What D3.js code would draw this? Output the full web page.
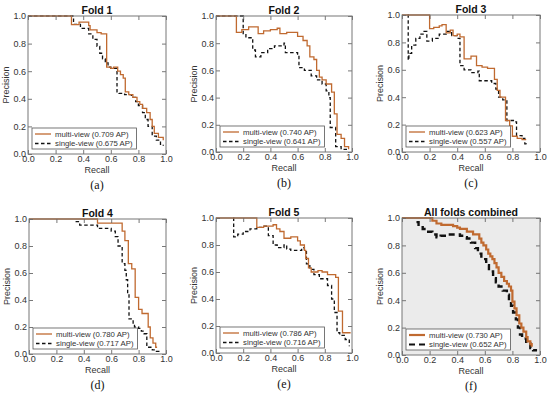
<!DOCTYPE html>
<html><head><meta charset="utf-8">
<script src="https://cdn.jsdelivr.net/npm/d3@7"></script>
<style>
html,body{margin:0;padding:0;background:#fff;}
svg{display:block;}
</style></head>
<body>
<svg id="c" width="550" height="395"></svg>
<script>
// ---- data ----
const titles = ['Fold 1','Fold 2','Fold 3','Fold 4','Fold 5','All folds combined'];
const panelLabels = ['(a)','(b)','(c)','(d)','(e)','(f)'];
const apMulti = ['0.709','0.740','0.623','0.780','0.786','0.730'];
const apSingle = ['0.675','0.641','0.557','0.717','0.716','0.652'];
const tickValues = [0,0.2,0.4,0.6,0.8,1.0];

// [recall, precision] — precision holds from this recall to the next point
const fold1Multi = [[0,1],[0.315,0.937],[0.37,0.955],[0.44,0.93],[0.45,0.9],[0.5,0.88],[0.53,0.87],[0.57,0.63],[0.6,0.62],[0.62,0.63],[0.65,0.6],[0.67,0.575],[0.69,0.55],[0.705,0.45],[0.73,0.43],[0.76,0.41],[0.79,0.38],[0.81,0.36],[0.83,0.33],[0.86,0.3],[0.885,0.25],[0.9,0.2],[0.915,0.15],[0.945,0.12],[0.98,0.1]];
const fold1Single = [[0,1],[0.33,0.94],[0.38,0.91],[0.44,0.87],[0.47,0.83],[0.5,0.78],[0.52,0.73],[0.54,0.69],[0.56,0.66],[0.58,0.63],[0.6,0.62],[0.645,0.45],[0.66,0.44],[0.7,0.43],[0.75,0.41],[0.78,0.38],[0.8,0.35],[0.83,0.3],[0.85,0.25],[0.87,0.2],[0.9,0.13],[0.93,0.1],[0.96,0.07],[0.98,0.06]];

const fold2Multi = [[0,1],[0.15,0.88],[0.19,0.9],[0.24,0.92],[0.31,0.87],[0.35,0.89],[0.4,0.9],[0.45,0.91],[0.47,0.87],[0.52,0.88],[0.6,0.85],[0.64,0.82],[0.67,0.78],[0.69,0.7],[0.72,0.68],[0.74,0.6],[0.76,0.55],[0.78,0.53],[0.81,0.5],[0.85,0.44],[0.87,0.28],[0.89,0.13],[0.92,0.1],[0.945,0.04],[0.975,0.02]];
const fold2Single = [[0,1],[0.2,0.87],[0.22,0.84],[0.27,0.75],[0.29,0.7],[0.33,0.73],[0.38,0.76],[0.43,0.78],[0.5,0.8],[0.51,0.73],[0.6,0.72],[0.61,0.62],[0.65,0.6],[0.7,0.56],[0.74,0.53],[0.78,0.5],[0.81,0.45],[0.83,0.4],[0.84,0.18],[0.88,0.04],[0.92,0.02],[0.97,0.02]];

const fold3Multi = [[0,1],[0.2,0.9],[0.23,0.91],[0.27,0.92],[0.29,0.93],[0.32,0.87],[0.35,0.89],[0.37,0.85],[0.4,0.86],[0.42,0.84],[0.45,0.68],[0.5,0.7],[0.54,0.63],[0.58,0.62],[0.62,0.61],[0.67,0.53],[0.69,0.45],[0.71,0.4],[0.75,0.23],[0.78,0.19],[0.8,0.115],[0.835,0.1],[0.87,0.09],[0.9,0.09]];
const fold3Single = [[0.04,1.0],[0.045,0.67],[0.05,0.72],[0.07,0.78],[0.1,0.83],[0.13,0.86],[0.16,0.88],[0.18,0.81],[0.22,0.83],[0.27,0.86],[0.32,0.88],[0.36,0.85],[0.4,0.83],[0.42,0.63],[0.45,0.6],[0.5,0.58],[0.55,0.59],[0.56,0.52],[0.62,0.52],[0.65,0.5],[0.68,0.46],[0.7,0.4],[0.73,0.38],[0.76,0.23],[0.82,0.22],[0.83,0.12],[0.87,0.1],[0.89,0.06],[0.9,0.04]];

const fold4Multi = [[0,1],[0.5,0.97],[0.68,0.91],[0.7,0.84],[0.725,0.67],[0.75,0.63],[0.775,0.42],[0.8,0.33],[0.825,0.3],[0.87,0.2],[0.885,0.12],[0.905,0.08],[0.925,0.05],[0.935,0.05]];
const fold4Single = [[0.34,0.98],[0.37,0.955],[0.5,0.93],[0.57,0.93],[0.6,0.91],[0.63,0.87],[0.65,0.8],[0.68,0.67],[0.7,0.62],[0.71,0.55],[0.72,0.45],[0.73,0.26],[0.76,0.22],[0.77,0.2],[0.8,0.19],[0.82,0.17],[0.84,0.15],[0.86,0.05],[0.9,0.03],[0.93,0.02],[0.97,0.02]];

const fold5Multi = [[0,1],[0.3,0.93],[0.35,0.94],[0.42,0.95],[0.445,0.92],[0.47,0.9],[0.5,0.85],[0.55,0.86],[0.6,0.83],[0.62,0.8],[0.65,0.76],[0.66,0.7],[0.68,0.63],[0.7,0.6],[0.75,0.61],[0.78,0.6],[0.82,0.58],[0.88,0.56],[0.9,0.31],[0.93,0.15],[0.99,0.15]];
const fold5Single = [[0.127,1.0],[0.13,0.86],[0.16,0.88],[0.2,0.9],[0.25,0.92],[0.3,0.93],[0.34,0.94],[0.385,0.87],[0.42,0.8],[0.45,0.78],[0.5,0.8],[0.52,0.77],[0.55,0.76],[0.6,0.76],[0.63,0.78],[0.65,0.75],[0.665,0.66],[0.69,0.62],[0.72,0.58],[0.76,0.55],[0.82,0.5],[0.85,0.4],[0.87,0.3],[0.89,0.15],[0.91,0.13],[0.95,0.1],[0.98,0.05]];

const allMulti = [[0,1],[0.22,0.98],[0.25,0.96],[0.285,0.95],[0.37,0.94],[0.4,0.93],[0.42,0.92],[0.47,0.9],[0.515,0.88],[0.56,0.85],[0.575,0.82],[0.59,0.8],[0.61,0.77],[0.625,0.74],[0.64,0.72],[0.655,0.7],[0.67,0.67],[0.685,0.64],[0.7,0.6],[0.72,0.57],[0.74,0.54],[0.76,0.52],[0.775,0.5],[0.79,0.47],[0.8,0.39],[0.815,0.34],[0.83,0.29],[0.85,0.23],[0.865,0.2],[0.88,0.17],[0.9,0.13],[0.91,0.1],[0.93,0.08],[0.94,0.06]];
const allSingle = [[0.105,0.97],[0.12,0.95],[0.15,0.92],[0.19,0.9],[0.22,0.88],[0.25,0.86],[0.28,0.87],[0.31,0.88],[0.42,0.87],[0.45,0.86],[0.47,0.85],[0.5,0.82],[0.53,0.78],[0.55,0.74],[0.575,0.7],[0.61,0.655],[0.63,0.61],[0.66,0.56],[0.68,0.53],[0.7,0.5],[0.73,0.47],[0.76,0.44],[0.775,0.4],[0.79,0.36],[0.805,0.31],[0.825,0.26],[0.84,0.2],[0.855,0.15],[0.87,0.12],[0.9,0.085],[0.93,0.05],[0.95,0.035],[0.97,0.025]];

const multiSeries = [fold1Multi,fold2Multi,fold3Multi,fold4Multi,fold5Multi,allMulti];
const singleSeries = [fold1Single,fold2Single,fold3Single,fold4Single,fold5Single,allSingle];

// ---- layout ----
const boxes = [
  [28,16,166,154],[216,16,352,152],[402,15,540,152],
  [29,219,166,354],[216,218,352,353],[402,218,540,355]
];
const orange = '#c06a30';
const svg = d3.select('#c');
const fmt = d3.format('.1f');
const sans = '"Liberation Sans", Arial, sans-serif';

titles.forEach((t,i)=>{
  const [x0,y0,x1,y1] = boxes[i];
  const big = i===5;
  const g = svg.append('g');
  const x = d3.scaleLinear().domain([0,1]).range([x0,x1]);
  const y = d3.scaleLinear().domain([0,1]).range([y1,y0]);
  if(big){
    g.append('rect').attr('x',x0).attr('y',y0).attr('width',x1-x0).attr('height',y1-y0).attr('fill','#ebebeb');
  }
  const line = d3.line().x(d=>x(d[0])).y(d=>y(d[1])).curve(d3.curveStepAfter);
  g.append('path').datum(singleSeries[i]).attr('d',line)
    .attr('fill','none').attr('stroke','#111').attr('stroke-width',big?2.4:1.3)
    .attr('stroke-dasharray',big?'6,4':'3.5,2.5');
  g.append('path').datum(multiSeries[i]).attr('d',line)
    .attr('fill','none').attr('stroke',orange).attr('stroke-width',big?2.2:1.3);

  const axStyle = sel=>{
    sel.select('.domain').remove();
    sel.selectAll('line').attr('stroke','#555').attr('stroke-width',0.8);
    sel.selectAll('text').attr('fill','#333').style('font-family',sans).style('font-size','9px');
  };
  g.append('g').attr('transform',`translate(0,${y1})`)
    .call(d3.axisBottom(x).tickValues(tickValues).tickFormat(fmt).tickSizeInner(-4).tickSizeOuter(0).tickPadding(2)).call(axStyle);
  g.append('g').attr('transform',`translate(${x0},0)`)
    .call(d3.axisLeft(y).tickValues(tickValues).tickFormat(fmt).tickSizeInner(-4).tickSizeOuter(0).tickPadding(2)).call(axStyle);
  g.append('g').attr('transform',`translate(0,${y0})`)
    .call(d3.axisTop(x).tickValues(tickValues).tickFormat('').tickSizeInner(-4).tickSizeOuter(0)).call(axStyle);
  g.append('g').attr('transform',`translate(${x1},0)`)
    .call(d3.axisRight(y).tickValues(tickValues).tickFormat('').tickSizeInner(-4).tickSizeOuter(0)).call(axStyle);
  g.selectAll('.tick text').filter(function(){return this.textContent==='';}).remove();

  g.append('rect').attr('x',x0).attr('y',y0).attr('width',x1-x0).attr('height',y1-y0)
    .attr('fill','none').attr('stroke','#777').attr('stroke-width',1);

  g.append('text').attr('x',(x0+x1)/2).attr('y',y0-2).attr('text-anchor','middle')
    .style('font-family',sans).style('font-size','10.5px').style('font-weight','bold').attr('fill','#111').text(t);
  g.append('text').attr('x',(x0+x1)/2).attr('y',y1+19).attr('text-anchor','middle')
    .style('font-family',sans).style('font-size','9px').attr('fill','#333').text('Recall');
  g.append('text').attr('transform',`translate(${x0-19},${(y0+y1)/2}) rotate(-90)`).attr('text-anchor','middle')
    .style('font-family',sans).style('font-size','9px').attr('fill','#333').text('Precision');
  g.append('text').attr('x',(x0+x1)/2).attr('y',y1+35).attr('text-anchor','middle')
    .style('font-family','"Liberation Serif", "Times New Roman", serif').style('font-size','12px').attr('fill','#111').text(panelLabels[i]);

  // legend
  const lx = x0+4, ly = y1-26;
  const lg = g.append('g');
  const bg = lg.append('rect').attr('x',lx).attr('y',ly).attr('height',21)
    .attr('fill','#fff').attr('stroke','#555').attr('stroke-width',0.8);
  const labels = [`multi-view (${apMulti[i]} AP)`,`single-view (${apSingle[i]} AP)`];
  let maxW = 0;
  labels.forEach((lab,k)=>{
    const yy = ly+6+k*9.5;
    lg.append('line').attr('x1',lx+3).attr('x2',lx+19).attr('y1',yy).attr('y2',yy)
      .attr('stroke',k===0?orange:'#111').attr('stroke-width',big?2.2:1.3)
      .attr('stroke-dasharray',k===0?null:(big?'6,4':'3.5,2.5'));
    const tx = lg.append('text').attr('x',lx+23).attr('y',yy+2.7)
      .style('font-family',sans).style('font-size','7.8px').attr('fill','#333').text(lab);
    maxW = Math.max(maxW, tx.node().getComputedTextLength());
  });
  bg.attr('width',23+maxW+4);
});
</script>
</body></html>
